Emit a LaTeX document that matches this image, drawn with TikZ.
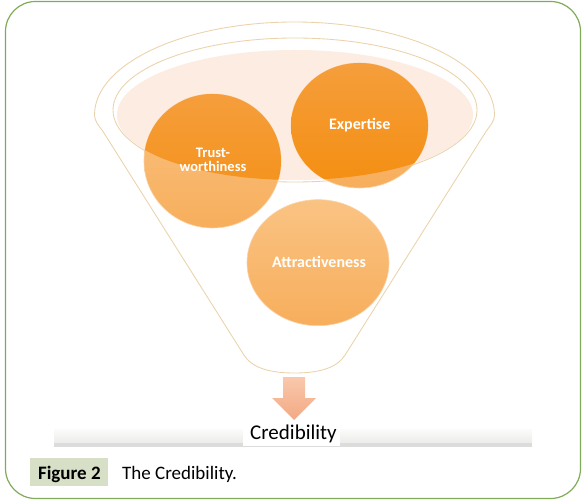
\documentclass[tikz,border=0pt]{standalone}
\usepackage{fontspec}
\setmainfont{Carlito}
\definecolor{frameGreen}{HTML}{80AB58}
\definecolor{capBox}{HTML}{D7E0C6}
\definecolor{funnelLine}{HTML}{EAD3AA}
\definecolor{pinkFill}{HTML}{FCECE2}
\definecolor{lightTop}{HTML}{FAC383}
\definecolor{lightBot}{HTML}{F7AE5C}
\definecolor{darkTop}{HTML}{F59E3C}
\definecolor{darkBot}{HTML}{F48E10}
\definecolor{arrowTop}{HTML}{F9C8AC}
\definecolor{arrowBot}{HTML}{F3A984}
\definecolor{barTop}{HTML}{FBFBF9}
\definecolor{barBot}{HTML}{ECECEA}
\definecolor{barLine}{HTML}{DCDCDC}
\definecolor{circEdge}{HTML}{FAD2A6}
\begin{document}
\begin{tikzpicture}[x=1pt,y=-1pt,
  frame/.style={draw=frameGreen,line width=1.2pt,rounded corners=30pt},
  funnel/.style={draw=funnelLine,line width=0.85pt},
  lightball/.style={top color=lightTop,bottom color=lightBot,draw=circEdge,line width=0.6pt},
  darkball/.style={top color=darkTop,bottom color=darkBot},
  ballText/.style={text=white,font=\bfseries\fontsize{16}{15}\selectfont,inner sep=0pt,align=center},
  arrowShape/.style={top color=arrowTop,bottom color=arrowBot}]
\useasboundingbox (0,0) rectangle (585,502);
% outer frame
\draw[frame] (5.5,1.5) rectangle (580.5,498.5);
% funnel outline
\draw[funnel,fill=white] (94.5,115) arc[start angle=180,end angle=360,x radius=200,y radius=93]
  .. controls (494.5,121) and (490,126) .. (486.3,131) -- (345.1,355)
  .. controls (337,368) and (319,373) .. (294.5,373)
  .. controls (270,373) and (252,368) .. (243.9,355) -- (102.7,131)
  .. controls (99,126) and (94.5,121) .. (94.5,115) -- cycle;
% inner rim
\draw[funnel] (295,110) ellipse [x radius=182,y radius=72];
% pink surface
\fill[pinkFill] (295,115) ellipse [x radius=178,y radius=65];
% balls (light)
\path[lightball] (212.5,161) ellipse [x radius=68.5,y radius=67];
\path[lightball] (359.5,125.5) ellipse [x radius=68.5,y radius=62.5];
\path[lightball] (318,262.7) ellipse [x radius=71,y radius=63];
% balls (dark part inside surface)
\begin{scope}
\clip (295,115) ellipse [x radius=178,y radius=65];
\path[darkball] (212.5,161) ellipse [x radius=68.5,y radius=67];
\path[darkball] (359.5,125.5) ellipse [x radius=68.5,y radius=62.5];
\end{scope}
% labels
\node[ballText,font=\bfseries\fontsize{14.5}{14}\selectfont] (trust) at (213,160.3) {Trust-\\worthiness};
\node[ballText,anchor=base] (expert) at (359.7,130) {Expertise};
\node[ballText,anchor=base] (attract) at (319,267.7) {Attractiveness};
% arrow
\path[arrowShape] (283,377) -- (305,377) -- (305,398) -- (316,398) -- (294,420) -- (272,398) -- (283,398) -- cycle;
% base bar
\fill[top color=barTop,bottom color=barBot] (54,429) rectangle (532,443);
\fill[barLine] (54,443) rectangle (532,447);
\fill[white] (243,424) rectangle (340,446);
\node[anchor=base,inner sep=0pt,font=\fontsize{21}{25}\selectfont] (cred) at (293.5,439.3) {Credibility};
% caption
\fill[capBox] (30,458) rectangle (108,486);
\node[anchor=base,inner sep=0pt,font=\bfseries\fontsize{19}{22}\selectfont] (figno) at (69.4,479) {Figure 2};
\node[anchor=base west,inner sep=0pt,font=\fontsize{19}{22}\selectfont] (captext) at (122,479) {The Credibility.};
\end{tikzpicture}
\end{document}
